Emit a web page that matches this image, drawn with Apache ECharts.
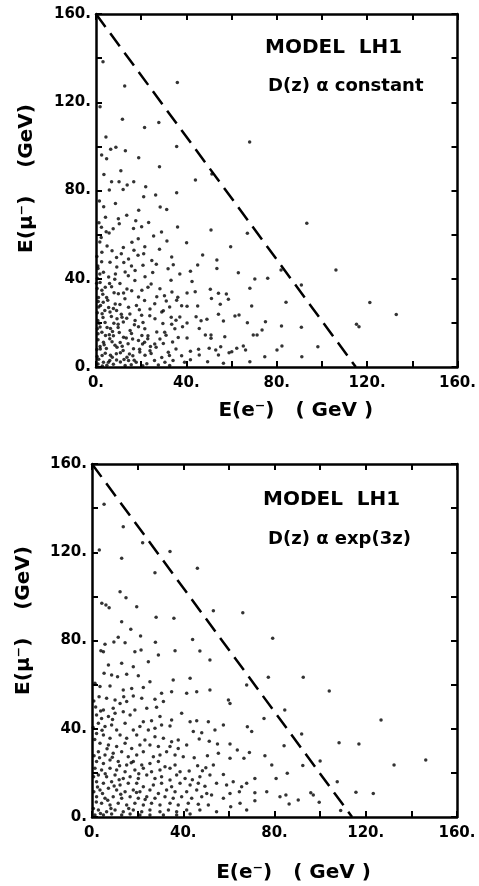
<!DOCTYPE html>
<html>
<head>
<meta charset="utf-8">
<script src="https://cdn.jsdelivr.net/npm/echarts@6/dist/echarts.min.js"></script>
<style>
html,body{margin:0;padding:0;background:#fff;}
#c{width:479px;height:886px;}
</style>
</head>
<body>
<div id="c"></div>
<script>
// ---- axis ticks ----
var axisMin = 0, axisMax = 160, tickStep = 20, labelStep = 40;

// ---- panel texts ----
var topTitle = 'MODEL  LH1', topSubtitle = 'D(z) α constant';
var botTitle = 'MODEL  LH1', botSubtitle = 'D(z) α exp(3z)';
var xName = 'E(e⁻)   ( GeV )', yName = 'E(μ⁻)    (GeV)';

// ---- dashed kinematic limit lines ----
var topLineX = [0, 115], topLineY = [160, 0];
var botLineX = [0, 114], botLineY = [160, 0];

// ---- top panel: D(z) ~ constant ----
var topUpper = [[3.1,138.4],[12.7,127.4],[36,128.9],[1.8,118],[11.7,112.3],[21.5,108.5],[27.8,110.8],[4.4,104.2],[6.5,98.7],[8.8,99.6],[2.5,96.1],[4.7,94.4],[13,98],[18.9,94.9],[35.7,99.9],[68,102],[28.1,90.8],[3.5,87.2],[11,89],[6.9,84],[10.2,84],[13.8,82.5],[16.7,84],[5.9,80.2],[12,80.5],[22,81.7],[26.4,78],[35.7,79],[44,84.8],[51.3,87.5],[1.5,75.2],[21.1,77.2]];
var topRight = [[93.3,65.1],[50.9,62.1],[67,60.6],[59.6,54.5],[47.2,50.8],[53.5,48.5],[45,46.2],[53.5,44.7],[81.9,44],[106.2,44],[63,42.7],[70.3,39.9],[76,40.2],[90.9,37.2],[43.9,34.1],[50.6,35.2],[54.2,33.4],[57.7,33.1],[68.1,35.7],[51.1,31.1],[58.6,30.7],[84.1,29.3],[45,27.7],[55,28.4],[68.9,27.7],[121.2,29.2],[44.3,22.8],[49.1,21.6],[54.2,23.9],[56.4,20.9],[61.5,23.1],[63.3,23.6],[46.5,21],[67,20.1],[75,20.5],[82.1,18.6],[90.9,18],[115.3,19.4],[116.4,18.3],[45.7,17.5],[73.5,16.8],[71.3,14.5],[69.6,14.5],[57,13.7],[48.4,14.5],[50.9,14.5],[50.9,13],[45.4,8],[50.1,8.5],[53,7.7],[55.2,9.2],[58.9,6.5],[60.1,6.9],[62.3,8.5],[65.2,9.5],[66.2,7.7],[80.1,7.7],[82.3,9.5],[98.2,9.2],[45.7,5.4],[54.2,5.4],[74.7,4.7],[91.1,4.7],[68.1,2.4],[49.4,2.4],[56.4,1.7],[132.9,23.8]];
var topDense = [[3.4,72.6],[8.6,74.1],[18.9,71.0],[28.4,72.5],[31.3,71.4],[4.2,67.9],[9.9,67.2],[13.6,68.8],[17.6,66.3],[23.3,65.5],[2.4,63.3],[7.6,62.7],[10.3,64.9],[5.8,60.7],[16.6,62.8],[20.2,63.6],[25.5,59.4],[29.0,61.2],[36.1,63.4],[31.4,57.1],[1.7,56.7],[4.9,54.8],[12.1,54.2],[15.9,56.6],[18.7,58.1],[40.1,56.3],[2.6,52.0],[7.1,52.7],[11.2,51.3],[16.8,52.9],[21.6,54.5],[28.1,53.4],[9.1,49.6],[14.4,48.9],[18.6,50.6],[21.1,51.3],[24.7,48.3],[26.7,46.6],[33.5,49.9],[34.2,46.4],[6.2,47.5],[12.3,47.4],[15.7,45.8],[0.9,44.6],[3.3,42.9],[9.2,45.3],[12.9,43.1],[17.3,43.7],[20.8,46.1],[25.1,42.8],[31.9,44.5],[5.6,40.8],[8.3,39.8],[14.3,41.4],[17.2,39.2],[21.7,40.9],[24.4,37.6],[33.2,39.3],[37.1,42.1],[1.8,38.3],[0.6,40.1],[4.1,36.2],[6.9,36.4],[10.6,37.8],[13.7,35.3],[15.8,34.6],[20.3,34.8],[23.0,36.1],[28.3,35.5],[30.3,32.3],[33.6,34.0],[36.2,31.6],[2.6,34.8],[4.7,31.5],[9.9,33.2],[12.8,30.9],[18.8,31.7],[21.5,30.1],[26.9,31.8],[31.1,29.9],[35.7,30.2],[3.2,29.3],[8.5,28.6],[1.2,27.2],[5.6,27.0],[9.1,25.6],[14.4,27.1],[17.9,27.9],[23.9,26.3],[26.0,28.7],[29.8,25.5],[32.6,27.2],[37.9,27.8],[2.7,24.1],[6.2,24.9],[11.5,22.6],[15.0,24.0],[20.2,23.5],[23.8,23.2],[29.1,24.9],[33.3,22.5],[37.1,22.7],[0.8,21.1],[4.0,20.2],[9.3,21.9],[12.1,20.4],[17.3,21.1],[20.8,20.2],[26.1,21.9],[29.6,19.7],[33.5,19.4],[35.4,21.2],[1.8,18.1],[6.4,17.4],[9.8,17.9],[15.1,16.5],[18.8,18.2],[21.6,17.3],[26.9,15.9],[30.4,15.7],[34.9,17.3],[38.3,18.2],[0.9,15.1],[4.2,14.3],[7.7,14.2],[12.2,13.5],[15.7,15.2],[20.3,14.3],[23.0,14.2],[28.3,12.7],[31.0,14.4],[36.4,13.4],[3.3,11.2],[7.1,11.4],[10.7,11.1],[14.2,10.5],[18.8,12.0],[21.5,11.2],[26.0,10.4],[29.8,10.6],[33.9,11.3],[1.9,8.2],[4.6,8.4],[9.3,8.9],[12.0,7.5],[16.6,8.3],[19.3,8.1],[23.9,7.4],[26.6,9.0],[32.0,6.7],[35.4,8.2],[2.7,5.2],[6.4,5.3],[9.0,6.0],[13.7,4.4],[16.3,5.1],[21.7,5.3],[24.4,6.1],[29.1,4.3],[32.5,5.2],[37.9,5.1],[3.3,2.2],[6.1,2.9],[10.8,2.3],[14.4,2.9],[17.8,2.1],[22.5,1.5],[25.9,2.9],[30.5,2.2],[34.1,3.0],[39.2,2.2],[0.9,1.4],[4.8,0.8],[7.7,1.3],[12.9,0.7],[15.6,1.0],[20.7,0.6],[27.6,0.9],[32.6,0.7],[42.5,38.8],[40.3,33.5],[40.3,27.5],[40.3,19.9],[41.8,43.4],[40.3,13.1],[41.8,7.1],[41.8,3.3]];
var topCorner = [[1.2,3.5],[2.8,0.5],[4.1,6.2],[5.5,2.1],[7.2,4.4],[9.1,3.2],[10.8,6.5],[1.8,9.3],[3.6,10.1],[6.1,12.8],[8.4,9.9],[11.6,9.4],[0.9,12.4],[2.6,15.8],[4.9,17.9],[7.3,16.1],[9.8,19.4],[1.4,19.8],[3.1,22.4],[6.8,22.9],[0.6,24.6],[2.0,27.9],[5.2,30.3],[1.1,31.5],[3.0,33.0],[0.5,35.6],[1.7,42.2],[0.8,45.8],[2.5,47.7],[0.4,50.1],[12.4,3.4],[14.8,5.9],[16.9,3.1],[19.4,6.8],[13.4,13.2],[16.2,12.7],[17.0,19.1],[20.6,10.4],[22.9,12.8],[24.1,9.3],[11.2,23.9],[13.6,22.1],[19.2,25.9],[7.7,26.5],[10.6,28.3],[12.2,33.5],[6.0,37.9],[8.6,42.2],[2.3,58.7],[4.5,61.3],[1.3,65.4],[0.5,4.8],[0.4,7.9],[0.6,17.3],[1.0,29.7],[0.3,38.0],[5.9,14.6],[7.9,19.8],[10.3,15.6],[3.9,25.6],[8.0,33.6]];

// ---- bottom panel: D(z) ~ exp(3z) ----
var botUpper = [[5.3,141.7],[13.7,131.6],[22.2,124.3],[34.2,120.3],[3.2,121],[13,117.3],[46.2,112.7],[27.6,110.7],[12.3,102.1],[14.9,99.4],[4.3,96.9],[6.1,96.1],[7.5,94.9],[19.6,95.3],[53.2,93.5],[66.1,92.6],[13,88.5],[28.1,90.5],[35.9,90.1],[17,85.1],[11.5,81.5],[21.3,82],[44.1,80.5],[79.2,81],[5.7,78.3],[9.6,79.3],[14.5,79],[27.8,79.2],[3.9,75.4],[36.4,75.4],[47.3,75.2],[21.5,75.7]];
var botRight = [[92.6,63.3],[104,57.1],[84.5,48.5],[126.7,44],[91.9,37.6],[84.2,32.3],[108.3,33.7],[117,33.1],[100,25.4],[132.4,23.6],[146.3,25.8],[92.4,23.3],[85.6,19.8],[80.7,17.5],[107.5,16],[115.7,11.2],[123.3,10.7],[95.9,11],[97,10],[99.6,6.7],[85,10],[82.4,9.2],[86.4,5.9],[90.4,7.7],[109,2.9],[78.8,23.6],[67.8,59.8],[68.1,40.9],[60.5,33.1],[63.7,30.4],[69,29.2],[75.8,27.8],[66.6,26.6],[71.4,17.5],[67.8,15.3],[61.9,16],[64.6,11.5],[71.4,11],[76.6,11.5],[67.8,3.2],[75.4,44.7],[77.3,63.3],[60.5,26.6],[60.5,10.7],[64.9,6.2],[71.4,7.4],[60.8,4.6],[65.6,13.7],[70,38.7]];
var botMid = [[41.5,32.6],[47.0,35.4],[51.4,34.3],[55.0,33.1],[44.8,26.9],[50.6,27.8],[55.4,28.9],[46.3,23.2],[49.9,22.3],[53.2,23.6],[42.6,20.8],[48.4,21.0],[40.8,17.5],[44.0,16.9],[47.3,18.3],[51.7,19.0],[57.6,19.3],[43.0,14.5],[46.6,15.3],[49.5,13.9],[54.6,15.3],[59.0,14.5],[41.5,11.5],[45.9,12.2],[50.3,10.7],[43.7,8.5],[48.1,9.2],[52.4,10.0],[57.6,8.5],[42.2,6.2],[46.6,5.8],[51.0,5.4],[41.5,3.2],[47.3,3.2],[54.6,2.4],[43.0,1.4],[43.0,62.9],[41.5,56.1],[45.9,56.8],[51.7,57.6],[59.8,53.0],[60.5,51.5],[43.0,43.2],[45.9,43.6],[51.0,43.2],[57.6,41.7],[44.4,38.7],[48.1,38.2],[53.9,39.4],[51.7,71.2],[40.0,27.3]];
var botDense = [[5.0,74.9],[18.8,74.9],[29.1,73.4],[7.2,68.9],[13.0,69.7],[18.1,68.1],[24.7,70.4],[5.3,65.1],[8.6,64.4],[11.2,63.6],[15.2,64.7],[20.3,64.0],[25.4,61.3],[35.6,62.1],[1.3,60.6],[3.5,59.1],[7.9,59.4],[13.7,57.6],[17.4,58.3],[22.5,58.7],[30.5,56.1],[34.9,56.8],[3.1,54.5],[6.4,53.8],[10.1,53.0],[13.9,54.5],[18.1,54.9],[21.8,53.8],[27.6,53.4],[31.3,52.3],[24.0,49.3],[28.3,49.7],[5.0,48.5],[9.3,49.3],[12.3,51.5],[15.2,52.3],[2.0,46.2],[4.2,44.7],[7.2,45.5],[10.1,47.0],[13.7,47.7],[16.7,46.2],[18.8,48.5],[22.5,43.2],[26.1,43.6],[29.8,45.5],[34.9,44.0],[39.3,47.0],[2.8,42.5],[5.7,41.0],[8.6,41.7],[10.8,39.4],[14.5,42.5],[18.1,39.4],[21.0,41.0],[24.7,39.4],[27.6,40.2],[30.5,41.7],[34.2,41.3],[2.0,37.9],[5.0,37.2],[7.9,35.7],[12.3,37.2],[15.2,35.7],[19.6,37.2],[23.2,34.9],[27.6,36.4],[31.3,35.7],[34.9,34.1],[37.8,34.9],[3.5,33.4],[7.2,32.6],[10.8,31.9],[14.5,33.4],[17.4,31.1],[21.0,32.6],[25.4,32.6],[29.1,31.9],[34.2,31.9],[37.8,31.1],[2.8,29.6],[5.7,28.1],[9.3,28.9],[13.0,29.6],[15.9,27.3],[19.6,28.1],[22.5,29.6],[26.9,27.3],[29.8,28.1],[32.7,29.6],[36.4,28.1],[2.0,25.1],[5.0,24.3],[7.9,25.8],[11.5,25.1],[15.2,23.6],[18.1,25.1],[21.8,23.6],[25.4,24.3],[29.1,25.1],[32.0,22.8],[36.4,23.6],[1.3,22.1],[4.2,21.3],[7.9,22.1],[10.8,21.3],[14.5,20.5],[18.8,21.3],[22.5,22.1],[26.1,20.5],[29.8,21.3],[34.2,22.1],[38.6,20.5],[2.8,19.0],[6.4,18.3],[10.1,19.0],[13.7,17.5],[16.7,18.3],[20.3,17.5],[24.0,19.0],[27.6,17.5],[30.5,18.3],[34.2,16.8],[37.1,19.0],[2.0,16.0],[5.0,15.3],[8.6,16.0],[12.3,14.5],[15.9,15.3],[19.6,15.3],[22.5,13.7],[26.9,14.5],[30.5,15.3],[34.9,13.7],[38.6,15.3],[3.5,12.2],[7.2,13.0],[10.8,12.2],[14.5,11.5],[18.1,12.2],[21.0,11.5],[25.4,12.2],[29.1,10.7],[32.7,12.2],[36.4,11.5],[2.0,9.2],[5.7,8.5],[9.3,9.2],[13.0,8.5],[16.7,9.2],[20.3,8.5],[24.0,9.2],[27.6,8.5],[32.0,9.2],[35.6,8.5],[39.3,9.2],[4.2,6.2],[7.9,5.4],[11.5,6.2],[15.2,5.4],[18.8,6.2],[22.5,5.4],[26.1,6.2],[29.8,5.4],[34.2,6.2],[37.8,5.4],[2.8,3.2],[6.4,2.4],[10.1,3.2],[13.7,2.4],[18.1,3.2],[21.8,2.4],[25.4,3.2],[29.8,2.4],[33.5,3.2],[37.1,2.4],[1.3,0.9],[5.0,0.9],[8.6,1.4],[13.0,0.9],[16.7,1.4],[21.0,0.9],[25.4,0.9],[31.3,0.9],[37.1,0.9]];
var botCorner = [[0.6,3.9],[1.9,6.8],[3.7,1.6],[4.6,10.6],[6.9,7.6],[8.3,3.9],[0.8,11.4],[2.4,13.6],[5.8,19.6],[0.7,18.2],[3.3,26.9],[0.9,27.8],[6.6,30.9],[1.2,35.1],[0.5,40.6],[3.8,48.1],[0.8,52.6],[9.7,14.0],[11.9,16.9],[12.6,10.3],[16.1,3.9],[19.5,11.1],[23.3,7.9],[8.9,27.1],[12.1,23.2],[17.2,24.6],[20.5,19.6],[4.4,39.3],[9.0,44.2],[1.6,49.9]];

var topPoints = topUpper.concat(topRight, topDense, topCorner);
var botPoints = botUpper.concat(botRight, botMid, botDense, botCorner);

function zipLine(xs, ys){ return xs.map(function(x,i){ return [x, ys[i]]; }); }

var FONT = 'DejaVu Sans';
var INK = '#000';

function xAxes(gi, gap){
  return [{
    gridIndex: gi, type: 'value', min: axisMin, max: axisMax, interval: tickStep, position: 'bottom',
    axisLine: {onZero:false, lineStyle: {color: INK, width: 2.5}},
    axisTick: {inside: true, length: 6, lineStyle: {color: INK, width: 2}},
    axisLabel: {color: INK, fontFamily: FONT, fontWeight: 'bold', fontSize: 15, margin: 9,
      formatter: function(v){ return v % labelStep === 0 ? v + '.' : ''; }},
    splitLine: {show: false},
    name: xName, nameLocation: 'middle', nameGap: gap,
    nameTextStyle: {color: INK, fontFamily: FONT, fontWeight: 'bold', fontSize: 20, padding: [0,0,0,38]}
  }, {
    gridIndex: gi, type: 'value', min: axisMin, max: axisMax, interval: tickStep, position: 'top',
    axisLine: {onZero:false, lineStyle: {color: INK, width: 2.5}},
    axisTick: {inside: true, length: 6, lineStyle: {color: INK, width: 2}},
    axisLabel: {show: false}, splitLine: {show: false}
  }];
}
function yAxes(gi, gap, shift){
  return [{
    gridIndex: gi, type: 'value', min: axisMin, max: axisMax, interval: tickStep, position: 'left',
    axisLine: {onZero:false, lineStyle: {color: INK, width: 2.5}},
    axisTick: {inside: true, length: 6, lineStyle: {color: INK, width: 2}},
    axisLabel: {color: INK, fontFamily: FONT, fontWeight: 'bold', fontSize: 15, margin: 5,
      formatter: function(v){ return v % labelStep === 0 ? v + '.' : ''; }},
    splitLine: {show: false},
    name: yName, nameLocation: 'middle', nameGap: gap,
    nameTextStyle: {color: INK, fontFamily: FONT, fontWeight: 'bold', fontSize: 20, padding: [0,0,0,shift]}
  }, {
    gridIndex: gi, type: 'value', min: axisMin, max: axisMax, interval: tickStep, position: 'right',
    axisLine: {onZero:false, lineStyle: {color: INK, width: 2.5}},
    axisTick: {inside: true, length: 6, lineStyle: {color: INK, width: 2}},
    axisLabel: {show: false}, splitLine: {show: false}
  }];
}

var chart = echarts.init(document.getElementById('c'), null, {renderer: 'canvas'});
chart.setOption({
  animation: false,
  backgroundColor: '#fff',
  grid: [
    {left: 96, top: 14, width: 364, height: 353},
    {left: 92, top: 464, width: 365, height: 353}
  ],
  xAxis: xAxes(0, 34).concat(xAxes(1, 46)),
  yAxis: yAxes(0, 59, 24).concat(yAxes(1, 58, 40)),
  series: [
    {type: 'scatter', xAxisIndex: 0, yAxisIndex: 0, data: topPoints, symbolSize: 3.5,
     itemStyle: {color: INK}, silent: true},
    {type: 'line', xAxisIndex: 0, yAxisIndex: 0, data: zipLine(topLineX, topLineY), symbol: 'none',
     lineStyle: {color: INK, width: 2.5, type: [16, 8]}, silent: true},
    {type: 'scatter', xAxisIndex: 2, yAxisIndex: 2, data: botPoints, symbolSize: 3.5,
     itemStyle: {color: INK}, silent: true},
    {type: 'line', xAxisIndex: 2, yAxisIndex: 2, data: zipLine(botLineX, botLineY), symbol: 'none',
     lineStyle: {color: INK, width: 2.5, type: [16, 8]}, silent: true}
  ],
  graphic: [
    {type: 'text', left: 265, top: 38, style: {text: topTitle, font: 'bold 20px "DejaVu Sans"', fill: INK}},
    {type: 'text', left: 268, top: 77, style: {text: topSubtitle, font: 'bold 18px "DejaVu Sans"', fill: INK}},
    {type: 'text', left: 263, top: 490, style: {text: botTitle, font: 'bold 20px "DejaVu Sans"', fill: INK}},
    {type: 'text', left: 268, top: 530, style: {text: botSubtitle, font: 'bold 18px "DejaVu Sans"', fill: INK}}
  ]
});
</script>
</body>
</html>
